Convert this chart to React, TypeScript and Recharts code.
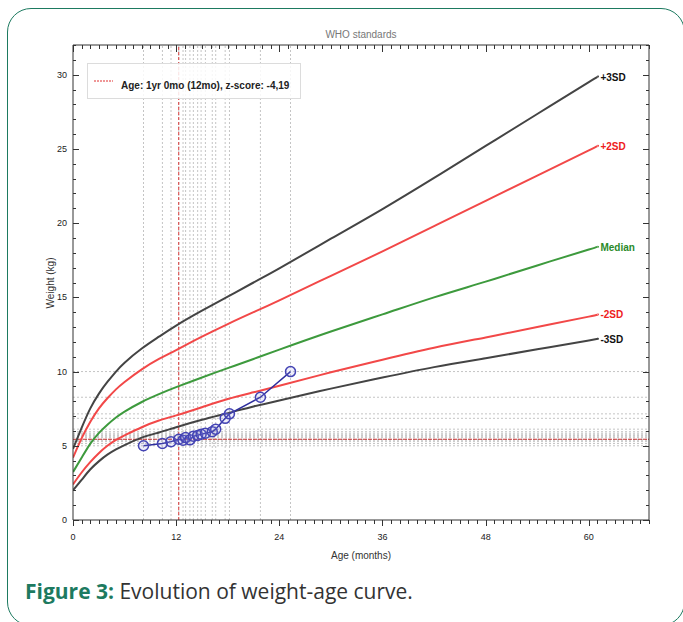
import React from 'react';
import { LineChart, Line, XAxis, YAxis, ReferenceLine } from 'recharts';

// WHO reference curves (months -> kg)
const months = [0, 1, 2, 3, 4, 5, 6, 8, 10, 12, 15, 18, 21, 24, 30, 36, 42, 48, 54, 60, 61];
const sdMinus3 = [2.0, 2.7, 3.4, 3.95, 4.4, 4.75, 5.05, 5.55, 5.9, 6.25, 6.75, 7.2, 7.65, 8.05, 8.85, 9.6, 10.3, 10.9, 11.5, 12.1, 12.2];
const sdMinus2 = [2.4, 3.2, 3.9, 4.5, 5.0, 5.4, 5.7, 6.25, 6.7, 7.05, 7.6, 8.15, 8.6, 9.05, 9.95, 10.8, 11.6, 12.3, 13.0, 13.7, 13.85];
const median = [3.23, 4.19, 5.13, 5.85, 6.42, 6.9, 7.3, 7.95, 8.48, 8.95, 9.6, 10.23, 10.85, 11.48, 12.7, 13.85, 15.0, 16.06, 17.15, 18.22, 18.4];
const sdPlus2 = [4.2, 5.5, 6.6, 7.5, 8.2, 8.8, 9.3, 10.15, 10.85, 11.45, 12.35, 13.2, 14.0, 14.8, 16.45, 18.1, 19.8, 21.5, 23.2, 24.9, 25.2];
const sdPlus3 = [4.8, 6.2, 7.5, 8.5, 9.3, 10.0, 10.6, 11.55, 12.35, 13.1, 14.1, 15.05, 16.0, 16.95, 18.95, 20.95, 23.05, 25.2, 27.35, 29.5, 29.85];

// Child measurements
const childAges = [8.2, 10.4, 11.4, 12.3, 12.8, 13.1, 13.6, 14.0, 14.5, 14.9, 15.4, 16.2, 16.6, 17.7, 18.2, 21.8, 25.3];
const childWeights = [5.0, 5.15, 5.28, 5.44, 5.38, 5.55, 5.4, 5.64, 5.7, 5.78, 5.85, 5.95, 6.12, 6.85, 7.15, 8.27, 10.0];

const selectedAge = 12.3;
const selectedWeight = 5.44;

const xTicks = Array.from({ length: 68 }, (_, i) => i);
const yTicks = Array.from({ length: 33 }, (_, i) => i);

const curveRows = months.map((m, i) => ({
  age: m,
  n3: sdMinus3[i],
  n2: sdMinus2[i],
  med: median[i],
  p2: sdPlus2[i],
  p3: sdPlus3[i],
}));
const childRows = childAges.map((a, i) => ({ age: a, w: childWeights[i] }));

const FONT = '"Liberation Sans", Arial, sans-serif';
const TICK = '#333';

const XTickBottom = (props: any) => {
  const { x, y, payload } = props;
  const v = payload.value;
  const major = v % 12 === 0;
  const xx = Math.round(x) + 0.5;
  return (
    <g>
      <line x1={xx} x2={xx} y1={y} y2={y + (major ? 6 : 4)} stroke={TICK} strokeWidth={1} />
      {major && (
        <text x={x} y={y + 20} textAnchor="middle" fontSize={9} fill="#222" fontFamily={FONT}>
          {v}
        </text>
      )}
    </g>
  );
};

const XTickTop = (props: any) => {
  const { x, y, payload } = props;
  const major = payload.value % 12 === 0;
  const xx = Math.round(x) + 0.5;
  return <line x1={xx} x2={xx} y1={y} y2={y + (major ? 7 : 4)} stroke={TICK} strokeWidth={1} />;
};

const YTickLeft = (props: any) => {
  const { x, y, payload } = props;
  const v = payload.value;
  const major = v % 5 === 0;
  const yy = Math.round(y) + 0.5;
  return (
    <g>
      <line x1={x} x2={x + (major ? 6 : 3)} y1={yy} y2={yy} stroke={TICK} strokeWidth={1} />
      {major && (
        <text x={x - 6} y={y + 3} textAnchor="end" fontSize={9} fill="#222" fontFamily={FONT}>
          {v}
        </text>
      )}
    </g>
  );
};

const YTickRight = (props: any) => {
  const { x, y, payload } = props;
  const major = payload.value % 5 === 0;
  const yy = Math.round(y) + 0.5;
  return <line x1={x} x2={x - (major ? 6 : 3)} y1={yy} y2={yy} stroke={TICK} strokeWidth={1} />;
};

const endLabel = (text: string, color: string) => (props: any) => {
  const { x, y, index } = props;
  if (index !== months.length - 1) return <g />;
  return (
    <text x={x + 3} y={y + 4} fill={color} fontSize={10} fontWeight="bold" fontFamily={FONT}>
      {text}
    </text>
  );
};

export default function App() {
  return (
    <div style={{ position: 'absolute', left: 0, top: 0, width: 683, height: 622, overflow: 'hidden', background: '#fff' }}>
      <div
        style={{
          position: 'absolute',
          left: 7,
          top: 8,
          width: 676,
          height: 616,
          border: '1.5px solid #1d7a60',
          borderRadius: 24,
        }}
      />
      <div style={{ position: 'absolute', left: 0, top: 0 }}>
        <LineChart width={683} height={575} data={curveRows} margin={{ top: 44, right: 33, left: 43, bottom: 10 }}>
          <XAxis
            xAxisId="b"
            dataKey="age"
            type="number"
            domain={[0, 67]}
            ticks={xTicks}
            interval={0}
            tick={<XTickBottom />}
            tickLine={false}
            tickSize={0}
            tickMargin={0}
            height={45}
            axisLine={{ stroke: '#333' }}
            allowDataOverflow
          />
          <XAxis
            xAxisId="t"
            orientation="top"
            type="number"
            dataKey="age"
            domain={[0, 67]}
            ticks={xTicks}
            interval={0}
            tick={<XTickTop />}
            tickLine={false}
            tickSize={0}
            tickMargin={0}
            height={1}
            axisLine={{ stroke: '#333' }}
            allowDataOverflow
          />
          <YAxis
            yAxisId="l"
            type="number"
            domain={[0, 32]}
            ticks={yTicks}
            interval={0}
            tick={<YTickLeft />}
            tickLine={false}
            tickSize={0}
            tickMargin={0}
            width={30}
            axisLine={{ stroke: '#333' }}
            allowDataOverflow
          />
          <YAxis
            yAxisId="r"
            orientation="right"
            type="number"
            domain={[0, 32]}
            ticks={yTicks}
            interval={0}
            tick={<YTickRight />}
            tickLine={false}
            tickSize={0}
            tickMargin={0}
            width={1}
            axisLine={{ stroke: '#333' }}
            allowDataOverflow
          />
          {childAges.map((a, i) => (
            <ReferenceLine key={'vx' + i} xAxisId="b" yAxisId="l" x={a} stroke="#c4c4c4" strokeDasharray="2 2" strokeWidth={1} />
          ))}
          {childWeights.map((w, i) => (
            <ReferenceLine key={'hy' + i} xAxisId="b" yAxisId="l" y={w} stroke="#c4c4c4" strokeDasharray="2 2" strokeWidth={1} />
          ))}
          <ReferenceLine xAxisId="b" yAxisId="l" x={selectedAge} stroke="#d83838" strokeDasharray="3 2" strokeWidth={1} />
          <ReferenceLine xAxisId="b" yAxisId="l" y={selectedWeight} stroke="#c83030" strokeDasharray="4 1" strokeWidth={1} />
          <Line xAxisId="b" yAxisId="l" type="natural" dataKey="p3" stroke="#444" strokeWidth={2} dot={false} isAnimationActive={false} label={endLabel('+3SD', '#111')} />
          <Line xAxisId="b" yAxisId="l" type="natural" dataKey="p2" stroke="#f24848" strokeWidth={2} dot={false} isAnimationActive={false} label={endLabel('+2SD', '#ee2020')} />
          <Line xAxisId="b" yAxisId="l" type="natural" dataKey="med" stroke="#3d9a3d" strokeWidth={2} dot={false} isAnimationActive={false} label={endLabel('Median', '#2a8a2a')} />
          <Line xAxisId="b" yAxisId="l" type="natural" dataKey="n2" stroke="#f24848" strokeWidth={2} dot={false} isAnimationActive={false} label={endLabel('-2SD', '#ee2020')} />
          <Line xAxisId="b" yAxisId="l" type="natural" dataKey="n3" stroke="#444" strokeWidth={2} dot={false} isAnimationActive={false} label={endLabel('-3SD', '#111')} />
          <Line
            xAxisId="b"
            yAxisId="l"
            data={childRows}
            type="linear"
            dataKey="w"
            stroke="#2e2e9e"
            strokeWidth={1.5}
            dot={{ r: 5, stroke: '#4444b4', strokeWidth: 1.5, fill: 'rgba(140,140,230,0.15)' }}
            isAnimationActive={false}
          />
        </LineChart>
      </div>
      <div style={{ position: 'absolute', left: 261, width: 200, top: 29, textAlign: 'center', fontFamily: FONT, fontSize: 10, color: '#777' }}>
        WHO standards
      </div>
      <div
        style={{
          position: 'absolute',
          left: 87,
          top: 63,
          width: 214,
          height: 36,
          border: '1px solid #dcdcdc',
          background: 'rgba(255,255,255,0.85)',
          boxSizing: 'border-box',
        }}
      >
        <svg style={{ position: 'absolute', left: 5, top: 15 }} width={22} height={4}>
          <line x1={1} x2={20} y1={2} y2={2} stroke="#e03030" strokeWidth={1.2} strokeDasharray="2 1" />
        </svg>
        <div style={{ position: 'absolute', left: 33, top: 16, fontFamily: FONT, fontSize: 10, fontWeight: 'bold', color: '#222', whiteSpace: 'nowrap' }}>
          Age: 1yr 0mo (12mo), z-score: -4,19
        </div>
      </div>
      <div
        style={{
          position: 'absolute',
          left: 50,
          top: 283,
          transform: 'translate(-50%, -50%) rotate(-90deg)',
          fontFamily: FONT,
          fontSize: 10,
          color: '#333',
          whiteSpace: 'nowrap',
        }}
      >
        Weight (kg)
      </div>
      <div style={{ position: 'absolute', left: 261, width: 200, top: 550, textAlign: 'center', fontFamily: FONT, fontSize: 10, color: '#333' }}>
        Age (months)
      </div>
      <div style={{ position: 'absolute', left: 25, top: 577, fontFamily: '"Open Sans", sans-serif', fontSize: 21, whiteSpace: 'nowrap', color: '#333' }}>
        <span style={{ color: '#1d7a60', fontWeight: 'bold' }}>Figure 3:</span> Evolution of weight-age curve.
      </div>
    </div>
  );
}
